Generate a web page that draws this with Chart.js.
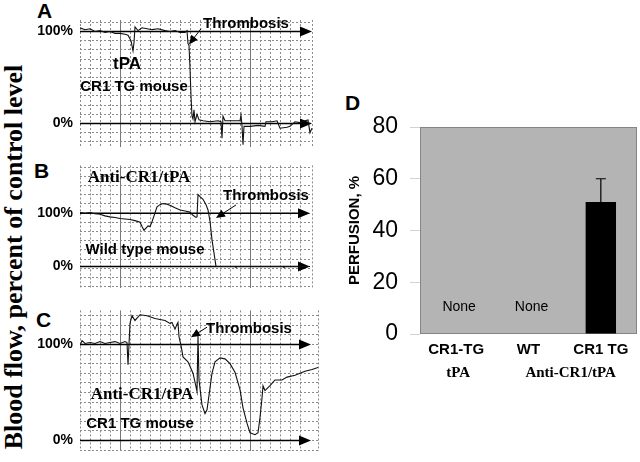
<!DOCTYPE html>
<html>
<head>
<meta charset="utf-8">
<script src="https://cdn.jsdelivr.net/npm/chart.js"></script>
<style>
  body { margin: 0; width: 640px; height: 462px; overflow: hidden; background: #fff; position: relative; }
  canvas { position: absolute; }
  .letter { position: absolute; font: bold 21px "Liberation Sans", Arial, sans-serif; line-height: 21px; }
  #ytitle {
    position: absolute; left: -186px; top: 242px; width: 400px; height: 30px;
    font: bold 26px "Liberation Serif", "Times New Roman", serif; line-height: 30px;
    text-align: center; white-space: nowrap; transform: rotate(-90deg);
  }
</style>
</head>
<body>
<div id="ytitle">Blood flow, percent of control level</div>
<div class="letter" style="left:37px;top:0px">A</div>
<div class="letter" style="left:34px;top:160px">B</div>
<div class="letter" style="left:36px;top:309px">C</div>
<div class="letter" style="left:345px;top:92px">D</div>

<canvas id="chartA" width="330" height="162" style="left:0;top:0"></canvas>
<canvas id="chartB" width="330" height="153" style="left:0;top:150px"></canvas>
<canvas id="chartC" width="330" height="171" style="left:0;top:295px"></canvas>
<canvas id="chartD" width="310" height="300" style="left:330px;top:100px"></canvas>

<script>
// ===========================
// DATA (time in chart units, flow in % of control)
// ===========================
const timeA = [0,5,10,15,20,25,30,35,40,45,48,51,53,54,55,58,62,67,72,78,85,90,95,100,105,107,108,109,110,111,112,113,114,115,117,119,123,130,138,141,142,143,145,152,160,161,162,163,164,170,178,185,186,192,197,200,207,210,215,220,225,228,230,232];
const flowA = [104,102,103,100,101,99,100,98,98,97,96,90,79,88,105,101,104,103,102,103,101,100,101,99,99,101,87,85,60,30,8,5,15,2,10,4,3,2,3,2,-16,8,3,3,3,9,-2,-23,-3,-3,-2,-3,2,2,3,-5,-4,-3,2,1,3,4,-10,-5];

const timeB = [0,5,10,15,20,25,30,35,40,45,50,55,60,62,64,66,68,70,72,74,77,80,83,87,91,95,100,105,110,113,116,117,118,120,123,126,128,130,132,134,136,155,156,157,203,204,205,230];
const flowB = [101,100,101,99,98,95,93,92,90,89,88,86,83,75,68,72,76,75,84,95,112,116,118,117,114,110,106,104,102,96,92,93,135,131,126,116,106,85,50,25,0,0,-2,0,0,-2,0,0];

const timeC = [0,2,5,10,15,20,25,30,35,40,45,47,48,49,50,52,55,60,67,75,80,85,90,92,95,97,98,99,101,103,108,113,116,117,118,119,122,125,127,129,132,135,140,145,150,155,160,163,167,170,175,178,180,182,183,185,190,195,202,207,215,220,225,232,238];
const flowC = [99,104,101,102,101,103,101,102,103,101,103,102,79,100,122,130,125,131,130,127,126,125,122,123,116,121,123,108,99,87,82,70,56,51,109,63,37,28,32,47,70,82,86,85,80,71,53,34,18,8,6,8,24,44,57,52,57,63,63,66,68,70,72,74,76];

// panel D
const groups = ['CR1-TG', 'WT', 'CR1 TG'];
const treatments = ['tPA', 'Anti-CR1/tPA'];
const treatmentOf = [0, 1, 1];
const perfusion = [0, 0, 51];
const perfusionErr = [0, 0, 9];

const SANS = '"Liberation Sans", Arial, sans-serif';
const SERIF = '"Liberation Serif", "Times New Roman", serif';
Chart.defaults.font.family = SANS;
Chart.defaults.color = '#000';

// ===========================
// DRAW HELPERS
// ===========================
function arrow(ctx, x1, y1, x2, y2, len, half) {
  const a = Math.atan2(y2 - y1, x2 - x1);
  const c = Math.cos(a), s = Math.sin(a);
  ctx.beginPath();
  ctx.moveTo(x1, y1);
  ctx.lineTo(x2 - c * len * 0.8, y2 - s * len * 0.8);
  ctx.stroke();
  ctx.beginPath();
  ctx.moveTo(x2, y2);
  ctx.lineTo(x2 - len * c + half * s, y2 - len * s - half * c);
  ctx.lineTo(x2 - len * c - half * s, y2 - len * s + half * c);
  ctx.closePath();
  ctx.fill();
}

const majorTimes = [40, 170];

// ===========================
// TRACE PANELS (A, B, C)
// ===========================
function tracePanel(id, time, flow, cfg) {
  const notes = {
    id: 'notes',
    beforeDatasetsDraw(chart) {
      const { ctx, chartArea, scales: { x, y } } = chart;
      ctx.save();
      ctx.strokeStyle = '#000';
      ctx.fillStyle = '#000';
      ctx.lineWidth = 1.5;
      [100, 0].forEach(level => {
        const py = y.getPixelForValue(level);
        arrow(ctx, chartArea.left, py, x.getPixelForValue(cfg.arrowEnd), py, 12, 5);
      });
      ctx.restore();
    },
    afterDraw(chart) {
      const { ctx, scales: { x, y } } = chart;
      ctx.save();
      ctx.strokeStyle = '#000';
      ctx.fillStyle = '#000';
      ctx.lineWidth = 1;
      cfg.pointers.forEach(p => arrow(ctx, x.getPixelForValue(p[0]), y.getPixelForValue(p[1]),
        x.getPixelForValue(p[2]), y.getPixelForValue(p[3]), 9, 4));
      ctx.textAlign = 'center';
      ctx.textBaseline = 'middle';
      cfg.notes.forEach(n => {
        ctx.font = n.font;
        ctx.fillText(n.text, x.getPixelForValue(n.t), y.getPixelForValue(n.v));
      });
      ctx.restore();
    }
  };

  new Chart(document.getElementById(id), {
    type: 'line',
    data: {
      datasets: [{
        data: time.map((t, i) => ({ x: t, y: flow[i] })),
        borderColor: '#111',
        borderWidth: 1.1,
        pointRadius: 0,
        tension: 0
      }]
    },
    options: {
      responsive: false,
      animation: false,
      layout: { padding: cfg.padding },
      plugins: { legend: { display: false }, tooltip: { enabled: false } },
      scales: {
        x: {
          type: 'linear', min: 0, max: cfg.tMax,
          ticks: { display: false, stepSize: 10 },
          grid: {
            drawTicks: false,
            color: c => (c.tick && majorTimes.includes(c.tick.value)) ? '#777' : '#8a8a8a'
          },
          border: {
            display: false,
            dash: c => (c.tick && majorTimes.includes(c.tick.value)) ? [] : [2, 2]
          },
          afterFit: s => { s.height = 0; }
        },
        y: {
          min: cfg.yMin, max: cfg.yMax,
          afterBuildTicks: s => {
            const vals = [0, 100];
            for (let k = -30; k <= 30; k++) {
              const v = 100 + k * cfg.step;
              if (v >= cfg.yMin && v <= cfg.yMax && Math.abs(v) > 0.5 && Math.abs(v - 100) > 0.5) vals.push(v);
            }
            s.ticks = vals.sort((a, b) => a - b).map(v => ({ value: v }));
          },
          ticks: {
            autoSkip: false,
            padding: 7,
            font: { size: 14, weight: 'bold' },
            callback: v => Math.abs(v - 100) < 1e-6 ? '100%' : (Math.abs(v) < 1e-6 ? '0%' : '')
          },
          grid: { drawTicks: false, color: '#8a8a8a' },
          border: { display: false, dash: [2, 2] },
          afterFit: s => { s.width = 80; }
        }
      }
    },
    plugins: [notes]
  });
}

const boldSans = 'bold 15px ' + SANS;
const boldSerif = 'bold 17px ' + SERIF;

tracePanel('chartA', timeA, flowA, {
  tMax: 232, yMin: -25, yMax: 112.5, step: 10, arrowEnd: 232,
  padding: { top: 20, bottom: 10, left: 0, right: 18 },
  pointers: [[121, 103, 109, 86]],
  notes: [
    { text: 'Thrombosis', t: 166, v: 108.3, font: boldSans },
    { text: 'tPA', t: 47, v: 64.6, font: 'bold 17px ' + SANS },
    { text: 'CR1 TG mouse', t: 54, v: 39.6, font: boldSans }
  ]
});

tracePanel('chartB', timeB, flowB, {
  tMax: 232, yMin: -39.7, yMax: 189.7, step: 17.24, arrowEnd: 230,
  padding: { top: 10, bottom: 10, left: 0, right: 18 },
  pointers: [[156, 115.5, 136, 91]],
  notes: [
    { text: 'Anti-CR1/tPA', t: 59, v: 167.2, font: boldSerif },
    { text: 'Thrombosis', t: 186, v: 132.8, font: boldSans },
    { text: 'Wild type mouse', t: 65, v: 31, font: boldSans }
  ]
});

tracePanel('chartC', timeC, flowC, {
  tMax: 238, yMin: -10.6, yMax: 135.5, step: 10, arrowEnd: 231,
  padding: { top: 10, bottom: 10, left: 0, right: 12 },
  pointers: [[127, 118, 111, 107.5]],
  notes: [
    { text: 'Thrombosis', t: 169, v: 116.2, font: boldSans },
    { text: 'Anti-CR1/tPA', t: 62, v: 47.4, font: boldSerif },
    { text: 'CR1 TG mouse', t: 60, v: 17.4, font: boldSans }
  ]
});

// ===========================
// PERFUSION BAR CHART (D)
// ===========================
const perfusionPlugin = {
  id: 'perfusionExtras',
  beforeDatasetsDraw(chart) {
    const { ctx, chartArea: a } = chart;
    ctx.save();
    ctx.fillStyle = '#b4b4b4';
    ctx.fillRect(a.left, a.top, a.right - a.left, a.bottom - a.top);
    ctx.strokeStyle = '#858585';
    ctx.lineWidth = 1;
    ctx.strokeRect(a.left + 0.5, a.top + 0.5, a.right - a.left - 1, a.bottom - a.top - 1);
    ctx.restore();
  },
  afterDatasetsDraw(chart) {
    const { ctx, chartArea: a, scales: { x, y } } = chart;
    ctx.save();
    ctx.strokeStyle = '#000';
    ctx.fillStyle = '#000';
    ctx.lineWidth = 1.2;
    perfusion.forEach((v, i) => {
      const px = x.getPixelForValue(i);
      if (perfusionErr[i] > 0) {
        const top = y.getPixelForValue(v + perfusionErr[i]);
        ctx.beginPath();
        ctx.moveTo(px, y.getPixelForValue(v));
        ctx.lineTo(px, top);
        ctx.moveTo(px - 5, top);
        ctx.lineTo(px + 5, top);
        ctx.stroke();
      }
      if (v === 0) {
        ctx.font = '14px ' + SANS;
        ctx.textAlign = 'center';
        ctx.textBaseline = 'middle';
        ctx.fillText('None', px + 3, y.getPixelForValue(10.5));
      }
    });
    // treatment row under the group names
    ctx.font = 'bold 15px ' + SERIF;
    ctx.textAlign = 'center';
    ctx.textBaseline = 'middle';
    treatments.forEach((name, g) => {
      const idx = treatmentOf.map((t, i) => t === g ? i : -1).filter(i => i >= 0);
      const px = idx.reduce((s, i) => s + x.getPixelForValue(i), 0) / idx.length;
      ctx.fillText(name, px + (idx.length > 1 ? 6 : 2), a.bottom + 39);
    });
    ctx.restore();
  }
};

new Chart(document.getElementById('chartD'), {
  type: 'bar',
  data: {
    labels: groups,
    datasets: [{
      data: perfusion,
      backgroundColor: '#000',
      categoryPercentage: 1,
      barPercentage: 0.42
    }]
  },
  options: {
    responsive: false,
    animation: false,
    layout: { padding: { top: 27, right: 3, bottom: 0, left: 0 } },
    plugins: { legend: { display: false }, tooltip: { enabled: false } },
    scales: {
      x: {
        grid: { display: false, drawTicks: false },
        border: { display: false },
        ticks: { padding: 7, font: { size: 15, weight: 'bold' } },
        afterFit: s => { s.height = 66; }
      },
      y: {
        min: 0, max: 80,
        ticks: { stepSize: 20, padding: 12, font: { size: 23 } },
        grid: { drawOnChartArea: false, tickLength: 10, color: '#d2d2d2' },
        border: { display: false },
        title: {
          display: true, text: 'PERFUSION, %',
          font: { size: 15, weight: 'bold' },
          padding: { top: 16, bottom: 0 }
        },
        afterFit: s => { s.width = 90; }
      }
    }
  },
  plugins: [perfusionPlugin]
});
</script>
</body>
</html>
